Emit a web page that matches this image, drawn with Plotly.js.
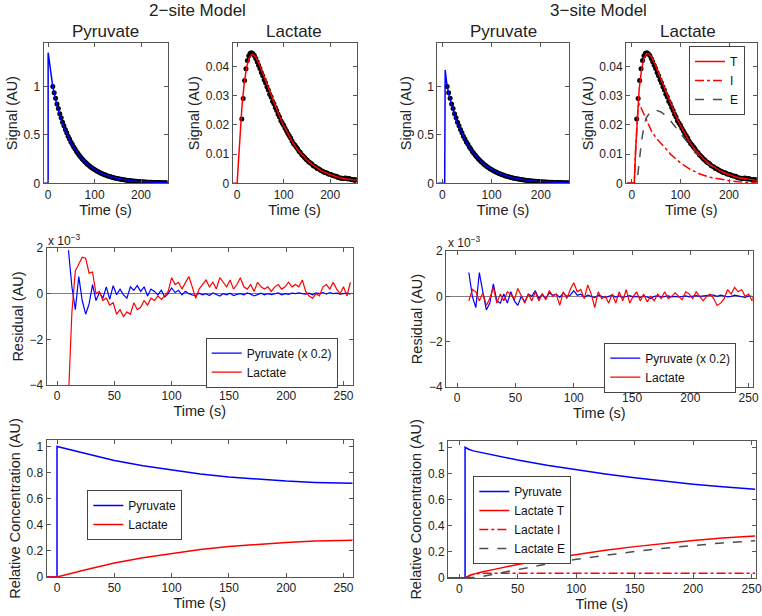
<!DOCTYPE html>
<html>
<head>
<meta charset="utf-8">
<script src="https://cdn.plot.ly/plotly-3.0.1.min.js"></script>
<style>html,body{margin:0;padding:0;background:#fff;}#chart{width:762px;height:616px;}</style>
</head>
<body>
<div id="chart"></div>
<script>
// ---------- measured data (sample times, s) ----------
const tData = [10,13,16,19,22,25,28,31,34,37,40,43,46,49,52,55,58,61,64,67,70,73,76,79,82,85,88,91,94,97,
  100,103,106,109,112,115,118,121,124,127,130,133,136,139,142,145,148,151,154,157,160,163,166,169,172,175,178,181,184,187,
  190,193,196,199,202,205,208,211,214,217,220,223,226,229,232,235,238,241,244,247,250,253,256];
const pyrData = [1.000,0.935,0.880,0.820,0.772,0.720,0.678,0.632,0.595,0.555,
  0.522,0.487,0.458,0.428,0.403,0.375,0.354,0.329,0.310,0.289,
  0.272,0.253,0.239,0.222,0.210,0.195,0.185,0.171,0.162,0.150,
  0.143,0.132,0.125,0.116,0.110,0.101,0.097,0.089,0.085,0.078,
  0.074,0.069,0.065,0.060,0.057,0.053,0.050,0.047,0.044,0.041,
  0.038,0.036,0.034,0.032,0.030,0.028,0.026,0.024,0.023,0.021,
  0.020,0.019,0.018,0.016,0.015,0.014,0.013,0.013,0.012,0.011,
  0.010,0.010,0.009,0.009,0.008,0.008,0.007,0.007,0.006,0.006,
  0.005,0.005,0.005];
const lacData = [0.0220,0.0290,0.0352,0.0392,0.0420,0.0436,0.0445,0.0447,0.0443,0.0437,
  0.0427,0.0416,0.0404,0.0393,0.0379,0.0368,0.0354,0.0344,0.0330,0.0319,
  0.0305,0.0295,0.0281,0.0272,0.0259,0.0249,0.0236,0.0227,0.0214,0.0206,
  0.0199,0.0188,0.0180,0.0170,0.0163,0.0155,0.0145,0.0136,0.0131,0.0124,
  0.0118,0.0110,0.0105,0.0098,0.0093,0.0088,0.0082,0.0079,0.0073,0.0070,
  0.0067,0.0061,0.0058,0.0056,0.0051,0.0050,0.0046,0.0043,0.0041,0.0038,
  0.0037,0.0035,0.0032,0.0031,0.0030,0.0027,0.0026,0.0024,0.0024,0.0020,
  0.0019,0.0017,0.0017,0.0016,0.0018,0.0017,0.0015,0.0016,0.0014,0.0012,
  0.0013,0.0010,0.0013];

// ---------- 2-site model fits ----------
const tPyrFit2 = [-10,0,0,10,15,20,25,30,40,50,60,70,80,90,100,110,120,130,140,150,160,170,180,190,200,220,240,257];
const pyrFit2  = [0,0,1.35,1.00,0.885,0.785,0.70,0.625,0.52,0.41,0.335,0.272,0.215,0.176,0.142,0.116,0.094,0.076,0.062,0.050,0.040,0.033,0.027,0.022,0.018,0.012,0.008,0.0055];
const tLacFit2 = [-10,0,3,6,10,15,20,25,30,35,40,50,60,70,80,90,100,110,120,130,140,150,160,170,180,190,200,210,220,230,240,250,257];
const lacFit2  = [0,0,0.008,0.016,0.0255,0.034,0.0395,0.0425,0.0438,0.0441,0.0432,0.0398,0.0356,0.0313,0.0272,0.0233,0.0197,0.0165,0.0138,0.0115,0.0096,0.0080,0.0066,0.0054,0.0044,0.0036,0.0029,0.0024,0.0019,0.0016,0.0013,0.0011,0.0010];

// ---------- 3-site model fits ----------
const tPyrFit3 = [-10,5,6,10,15,20,25,30,40,50,60,70,80,90,100,110,120,130,140,150,160,170,180,190,200,220,240,257];
const pyrFit3  = [0,0,1.17,1.00,0.885,0.785,0.70,0.625,0.52,0.41,0.335,0.272,0.215,0.176,0.142,0.116,0.094,0.076,0.062,0.050,0.040,0.033,0.027,0.022,0.018,0.012,0.008,0.0055];
const tLacT3 = [-10,5,8,10,12,15,20,25,30,35,40,50,60,70,80,90,100,110,120,130,140,150,160,170,180,190,200,210,220,230,240,250,257];
const lacT3  = [0,0,0.012,0.019,0.025,0.032,0.039,0.0428,0.0443,0.0443,0.0434,0.0399,0.0356,0.0313,0.0272,0.0233,0.0197,0.0165,0.0138,0.0115,0.0096,0.0080,0.0066,0.0054,0.0044,0.0036,0.0029,0.0024,0.0019,0.0016,0.0013,0.0011,0.0010];
const tLacI3 = [-10,5,8,10,13,16,20,30,40,50,60,70,80,90,100,120,140,160,180,200,220,240,257];
const lacI3  = [0,0,0.012,0.019,0.0265,0.027,0.0255,0.0215,0.018,0.0155,0.0138,0.0118,0.0099,0.0083,0.0070,0.0048,0.0032,0.0021,0.0014,0.0009,0.0005,0.0003,0.0002];
const tLacE3 = [-10,10,13,16,20,25,30,40,50,60,70,80,90,100,110,120,130,140,150,160,170,180,200,220,240,257];
const lacE3  = [0,0,0.004,0.009,0.0145,0.0195,0.0225,0.0248,0.0250,0.0244,0.0231,0.0213,0.0192,0.0170,0.0148,0.0127,0.0108,0.0091,0.0076,0.0063,0.0052,0.0043,0.0029,0.0019,0.0013,0.0009];

// ---------- residuals (units of 1e-3 AU; pyruvate already scaled x 0.2) ----------
const res2Pyr = [1.90,0.30,-0.70,0.75,-0.30,-0.90,-0.45,0.40,-0.30,0.05,
  -0.20,0.30,-0.25,0.35,-0.05,0.20,-0.05,-0.20,0.30,0.15,
  0.35,0.10,0.30,-0.10,0.20,0.10,-0.05,0.15,-0.15,0.00,
  0.25,0.05,0.15,-0.05,0.10,0.00,-0.05,-0.08,0.02,-0.05,
  0.00,-0.08,0.03,-0.05,-0.10,0.00,-0.05,0.02,-0.08,-0.03,
  0.00,-0.05,0.03,-0.02,-0.10,-0.04,0.02,-0.05,0.00,-0.04,
  -0.02,0.03,-0.05,0.00,-0.03,0.02,0.00,0.03,0.00,-0.02,
  0.02,-0.05,0.03,0.00,0.05,-0.02,0.05,0.00,0.02,-0.02,
  0.00,0.02,-0.02];
const res2Lac = [-4.50,-0.80,1.00,1.30,1.60,1.55,0.90,0.95,0.00,0.10,
  -0.30,-0.20,-0.50,-0.40,-0.90,-0.70,-1.00,-0.80,-0.90,-0.40,
  -0.70,-0.60,-0.30,-0.50,-0.20,-0.30,-0.10,-0.25,-0.10,0.10,
  0.70,0.40,0.50,0.20,0.50,0.75,0.30,-0.20,0.20,0.40,
  0.60,0.30,0.50,0.20,0.70,0.50,0.30,0.60,0.20,0.40,
  0.70,0.30,0.20,0.40,0.10,0.50,0.30,0.20,0.30,0.10,
  0.30,0.40,0.20,0.30,0.50,0.30,0.40,0.30,0.60,0.10,
  -0.10,-0.20,0.00,-0.10,0.30,0.40,0.20,0.50,0.20,0.00,
  0.30,-0.10,0.50];
const res3Pyr = [1.05,0.00,-0.50,1.05,0.20,-0.60,-0.30,0.55,-0.20,-0.30,
  0.10,-0.30,0.20,-0.20,-0.40,0.00,-0.25,0.10,0.00,0.25,
  -0.10,0.10,-0.10,0.15,0.05,0.10,-0.05,0.15,0.00,0.05,
  0.25,0.05,0.10,-0.05,0.05,0.00,-0.05,0.05,0.00,-0.05,
  0.00,0.05,-0.03,0.02,-0.05,0.00,0.03,-0.02,0.00,-0.05,
  0.02,-0.03,-0.10,0.00,0.02,-0.03,0.00,0.02,-0.02,0.00,
  -0.03,0.00,0.02,-0.02,0.00,0.03,0.00,0.02,0.05,0.05,
  0.05,0.00,0.05,0.03,-0.02,0.00,0.05,0.02,0.00,-0.05,
  0.02,0.00,-0.03];
const res3Lac = [-0.20,0.30,0.20,-0.20,0.15,-0.40,-0.10,0.40,-0.30,0.10,
  -0.20,0.20,0.10,-0.15,0.35,0.00,-0.30,0.10,-0.20,0.20,
  -0.20,0.10,-0.15,0.25,0.00,0.10,-0.40,0.20,-0.10,0.30,
  0.60,0.20,0.30,-0.10,0.50,0.10,-0.50,0.20,-0.10,0.00,
  -0.30,0.10,-0.30,0.20,-0.20,0.30,-0.30,0.00,0.20,-0.20,
  0.10,-0.25,0.00,-0.20,0.10,-0.10,0.20,-0.10,0.00,0.15,
  0.00,-0.15,0.20,0.10,-0.10,0.20,0.00,-0.20,0.00,0.10,
  -0.10,-0.40,-0.30,-0.10,0.30,0.10,0.40,0.20,0.30,0.00,
  0.10,-0.20,0.40];

// ---------- relative concentrations ----------
const tRelPyr2 = [-10,0,0,25,50,75,100,125,150,175,200,225,258];
const relPyr2  = [0,0,1.0,0.945,0.893,0.852,0.818,0.789,0.766,0.748,0.735,0.725,0.718];
const tRelLac2 = [-10,0,25,50,75,100,125,150,175,200,225,258];
const relLac2  = [0,0,0.055,0.107,0.148,0.182,0.211,0.234,0.252,0.265,0.275,0.282];
const tRelPyr3 = [-10,5,5,8,12,20,30,50,75,100,125,150,175,200,225,253];
const relPyr3  = [0,0,1.0,0.985,0.972,0.957,0.94,0.902,0.862,0.828,0.795,0.766,0.740,0.717,0.697,0.678];
const tRelLacT3 = [-10,5,10,15,20,30,50,75,100,125,150,175,200,225,253];
const relLacT3  = [0,0,0.024,0.038,0.048,0.066,0.104,0.145,0.18,0.212,0.24,0.265,0.287,0.305,0.322];
const tRelLacI3 = [-10,5,10,15,20,30,50,100,150,200,253];
const relLacI3  = [0,0,0.024,0.033,0.036,0.037,0.037,0.037,0.037,0.036,0.036];
const tRelLacE3 = [-10,10,15,20,30,50,75,100,125,150,175,200,225,253];
const relLacE3  = [0,0,0.005,0.012,0.029,0.067,0.108,0.143,0.175,0.203,0.228,0.25,0.268,0.285];

// ---------- styling ----------
const BLUE = '#0000ff', RED = '#ff0000', GRAY = '#4d4d4d', DOT = '#000000';
const FONT = 'Liberation Sans, Arial, Helvetica, sans-serif';
const W = 762, H = 616;
const dx = (a, b) => [a / W, b / W];
const dy = (top, bot) => [1 - bot / H, 1 - top / H];

function ax(extra) {
  return Object.assign({
    showline: true, mirror: 'ticks', linecolor: '#555', linewidth: 1,
    ticks: 'inside', ticklen: 4, tickcolor: '#555', tickwidth: 1,
    showgrid: false, zeroline: false, automargin: false, ticklabeloverflow: 'allow',
    tickfont: {size: 12, color: '#222', family: FONT},
  }, extra);
}
const tTitle = (txt) => ({text: txt, font: {size: 14.5, color: '#222', family: FONT}, standoff: 2});

const traces = [];
function line(x, y, xa, ya, color, opts) {
  traces.push(Object.assign({type: 'scatter', mode: 'lines', x: x, y: y, xaxis: xa, yaxis: ya,
    line: {color: color, width: 1.5}, showlegend: false, hoverinfo: 'skip'}, opts || {}));
}
function dots(x, y, xa, ya) {
  traces.push({type: 'scatter', mode: 'markers', x: x, y: y, xaxis: xa, yaxis: ya,
    marker: {color: DOT, size: 5}, showlegend: false, hoverinfo: 'skip'});
}

// Top row
dots(tData, pyrData, 'x', 'y');   line(tPyrFit2, pyrFit2, 'x', 'y', BLUE);
dots(tData, lacData, 'x2', 'y2'); line(tLacFit2, lacFit2, 'x2', 'y2', RED);
dots(tData, pyrData, 'x3', 'y3'); line(tPyrFit3, pyrFit3, 'x3', 'y3', BLUE);
dots(tData, lacData, 'x4', 'y4');
line(tLacI3, lacI3, 'x4', 'y4', RED, {name: 'I', showlegend: true, legend: 'legend', line: {color: RED, width: 1.5, dash: 'dashdot'}, legendrank: 2});
line(tLacE3, lacE3, 'x4', 'y4', GRAY, {name: 'E', showlegend: true, legend: 'legend', line: {color: GRAY, width: 1.5, dash: 'dash'}, legendrank: 3});
line(tLacT3, lacT3, 'x4', 'y4', RED, {name: 'T', showlegend: true, legend: 'legend', legendrank: 1});

// Middle row (residuals)
line(tData, res2Pyr, 'x5', 'y5', BLUE, {name: 'Pyruvate (x 0.2)', showlegend: true, legend: 'legend2', line: {color: BLUE, width: 1.2}});
line(tData, res2Lac, 'x5', 'y5', RED, {name: 'Lactate', showlegend: true, legend: 'legend2', line: {color: RED, width: 1.2}});
line(tData, res3Pyr, 'x6', 'y6', BLUE, {name: 'Pyruvate (x 0.2)', showlegend: true, legend: 'legend3', line: {color: BLUE, width: 1.2}});
line(tData, res3Lac, 'x6', 'y6', RED, {name: 'Lactate', showlegend: true, legend: 'legend3', line: {color: RED, width: 1.2}});

// Bottom row
line(tRelPyr2, relPyr2, 'x7', 'y7', BLUE, {name: 'Pyruvate', showlegend: true, legend: 'legend4'});
line(tRelLac2, relLac2, 'x7', 'y7', RED, {name: 'Lactate', showlegend: true, legend: 'legend4'});
line(tRelPyr3, relPyr3, 'x8', 'y8', BLUE, {name: 'Pyruvate', showlegend: true, legend: 'legend5', legendrank: 1});
line(tRelLacT3, relLacT3, 'x8', 'y8', RED, {name: 'Lactate T', showlegend: true, legend: 'legend5', legendrank: 2});
line(tRelLacI3, relLacI3, 'x8', 'y8', RED, {name: 'Lactate I', showlegend: true, legend: 'legend5', legendrank: 3, line: {color: RED, width: 1.5, dash: 'dashdot'}});
line(tRelLacE3, relLacE3, 'x8', 'y8', GRAY, {name: 'Lactate E', showlegend: true, legend: 'legend5', legendrank: 4, line: {color: GRAY, width: 1.5, dash: 'dash'}});

const legStyle = (x, y) => ({x: x, y: y, xanchor: 'left', yanchor: 'top', xref: 'paper', yref: 'paper',
  bgcolor: '#fff', bordercolor: '#444', borderwidth: 1, font: {size: 12, color: '#111', family: FONT},
  traceorder: 'normal', tracegroupgap: 0});

const topTop = 43, topBot = 183.3;
const layout = {
  width: W, height: H, margin: {l: 0, r: 0, t: 0, b: 0},
  paper_bgcolor: '#fff', plot_bgcolor: '#fff',
  font: {family: FONT, color: '#222'},
  xaxis:  ax({domain: dx(43.5, 167.5), range: [-10, 257], dtick: 100, anchor: 'y', title: tTitle('Time (s)')}),
  yaxis:  ax({domain: dy(topTop, topBot), range: [0, 1.45], dtick: 0.5, anchor: 'x', title: tTitle('Signal (AU)')}),
  xaxis2: ax({domain: dx(232.5, 356.7), range: [-10, 257], dtick: 100, anchor: 'y2', title: tTitle('Time (s)')}),
  yaxis2: ax({domain: dy(topTop, topBot), range: [0, 0.048], dtick: 0.01, anchor: 'x2', title: tTitle('Signal (AU)')}),
  xaxis3: ax({domain: dx(437.3, 569), range: [-10, 257], dtick: 100, anchor: 'y3', title: tTitle('Time (s)')}),
  yaxis3: ax({domain: dy(topTop, topBot), range: [0, 1.45], dtick: 0.5, anchor: 'x3', title: tTitle('Signal (AU)')}),
  xaxis4: ax({domain: dx(626, 756.7), range: [-12, 257], dtick: 100, anchor: 'y4', title: tTitle('Time (s)')}),
  yaxis4: ax({domain: dy(topTop, topBot), range: [0, 0.048], dtick: 0.01, anchor: 'x4', title: tTitle('Signal (AU)')}),
  xaxis5: ax({domain: dx(46.7, 352.7), range: [-9, 258], dtick: 50, anchor: 'y5', title: tTitle('Time (s)')}),
  yaxis5: ax({domain: dy(248, 385), range: [-4, 2], dtick: 2, anchor: 'x5', title: tTitle('Residual (AU)'),
    zeroline: true, zerolinecolor: '#808080', zerolinewidth: 1}),
  xaxis6: ax({domain: dx(446, 752.7), range: [-9.6, 253.5], dtick: 50, anchor: 'y6', title: tTitle('Time (s)')}),
  yaxis6: ax({domain: dy(251, 387), range: [-4, 2], dtick: 2, anchor: 'x6', title: tTitle('Residual (AU)'),
    zeroline: true, zerolinecolor: '#808080', zerolinewidth: 1}),
  xaxis7: ax({domain: dx(46.7, 352.7), range: [-9, 258], dtick: 50, anchor: 'y7', title: tTitle('Time (s)')}),
  yaxis7: ax({domain: dy(440, 577), range: [0, 1.05], dtick: 0.2, anchor: 'x7', title: tTitle('Relative Concentration (AU)')}),
  xaxis8: ax({domain: dx(448, 755.7), range: [-9.6, 253.5], dtick: 50, anchor: 'y8', title: tTitle('Time (s)')}),
  yaxis8: ax({domain: dy(440.7, 578), range: [0, 1.05], dtick: 0.2, anchor: 'x8', title: tTitle('Relative Concentration (AU)')}),
  legend:  legStyle(689 / W, 1 - 46 / H),
  legend2: legStyle(205.7 / W, 1 - 337.7 / H),
  legend3: legStyle(604.3 / W, 1 - 342.7 / H),
  legend4: legStyle(87.3 / W, 1 - 490 / H),
  legend5: legStyle(473.3 / W, 1 - 476 / H),
  annotations: [
    {text: '2\u2212site Model', x: 197 / W, y: 1 - 10 / H},
    {text: '3\u2212site Model', x: 598 / W, y: 1 - 10 / H},
    {text: 'Pyruvate', x: 105 / W, y: 1 - 31 / H},
    {text: 'Lactate', x: 294 / W, y: 1 - 31 / H},
    {text: 'Pyruvate', x: 503 / W, y: 1 - 31 / H},
    {text: 'Lactate', x: 688 / W, y: 1 - 31 / H},
  ].map(a => Object.assign({xref: 'paper', yref: 'paper', xanchor: 'center', yanchor: 'middle', showarrow: false,
    font: {size: 17, color: '#222', family: FONT}}, a)).concat([
    {text: 'x 10<sup>\u22123</sup>', x: 46 / W, y: 1 - 240 / H},
    {text: 'x 10<sup>\u22123</sup>', x: 446 / W, y: 1 - 242 / H},
  ].map(a => Object.assign({xref: 'paper', yref: 'paper', xanchor: 'left', yanchor: 'middle', showarrow: false,
    font: {size: 12, color: '#222', family: FONT}}, a)))
};

Plotly.newPlot('chart', traces, layout, {staticPlot: true, displayModeBar: false});
</script>
</body>
</html>
